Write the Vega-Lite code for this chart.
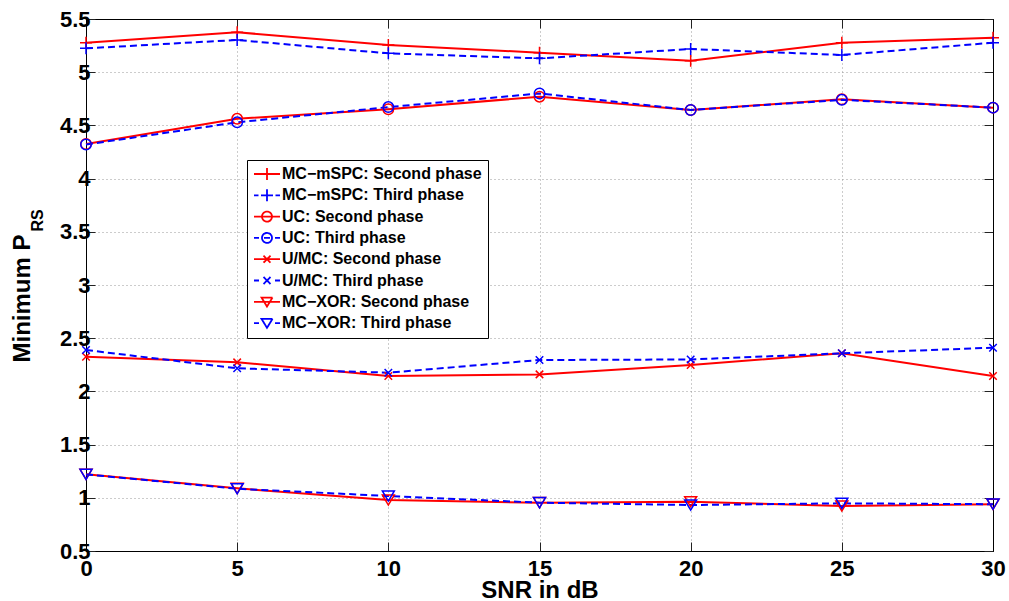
{
  "$schema": "https://vega.github.io/schema/vega-lite/v6.json",
  "width": 907,
  "height": 532,
  "autosize": {"type": "none"},
  "padding": {"left": 86, "top": 19, "right": 16, "bottom": 50},
  "config": {
    "font": "Liberation Sans",
    "view": {"stroke": "black", "strokeWidth": 1},
    "axis": {"labelFont": "Liberation Sans", "titleFont": "Liberation Sans", "labelColor": "black", "titleColor": "black", "domainColor": "black", "tickColor": "#222222"}
  },
  "data": {
    "values": [
      {"s": "MC−mSPC: Second phase", "x": 0, "y": 5.277},
      {"s": "MC−mSPC: Second phase", "x": 5, "y": 5.375},
      {"s": "MC−mSPC: Second phase", "x": 10, "y": 5.256},
      {"s": "MC−mSPC: Second phase", "x": 15, "y": 5.183},
      {"s": "MC−mSPC: Second phase", "x": 20, "y": 5.108},
      {"s": "MC−mSPC: Second phase", "x": 25, "y": 5.277},
      {"s": "MC−mSPC: Second phase", "x": 30, "y": 5.324},
      {"s": "MC−mSPC: Third phase", "x": 0, "y": 5.224},
      {"s": "MC−mSPC: Third phase", "x": 5, "y": 5.303},
      {"s": "MC−mSPC: Third phase", "x": 10, "y": 5.177},
      {"s": "MC−mSPC: Third phase", "x": 15, "y": 5.13},
      {"s": "MC−mSPC: Third phase", "x": 20, "y": 5.218},
      {"s": "MC−mSPC: Third phase", "x": 25, "y": 5.162},
      {"s": "MC−mSPC: Third phase", "x": 30, "y": 5.277},
      {"s": "UC: Second phase", "x": 0, "y": 4.325},
      {"s": "UC: Second phase", "x": 5, "y": 4.562},
      {"s": "UC: Second phase", "x": 10, "y": 4.652},
      {"s": "UC: Second phase", "x": 15, "y": 4.77},
      {"s": "UC: Second phase", "x": 20, "y": 4.645},
      {"s": "UC: Second phase", "x": 25, "y": 4.745},
      {"s": "UC: Second phase", "x": 30, "y": 4.667},
      {"s": "UC: Third phase", "x": 0, "y": 4.32},
      {"s": "UC: Third phase", "x": 5, "y": 4.529},
      {"s": "UC: Third phase", "x": 10, "y": 4.672},
      {"s": "UC: Third phase", "x": 15, "y": 4.8},
      {"s": "UC: Third phase", "x": 20, "y": 4.645},
      {"s": "UC: Third phase", "x": 25, "y": 4.74},
      {"s": "UC: Third phase", "x": 30, "y": 4.667},
      {"s": "U/MC: Second phase", "x": 0, "y": 2.326},
      {"s": "U/MC: Second phase", "x": 5, "y": 2.273},
      {"s": "U/MC: Second phase", "x": 10, "y": 2.145},
      {"s": "U/MC: Second phase", "x": 15, "y": 2.16},
      {"s": "U/MC: Second phase", "x": 20, "y": 2.248},
      {"s": "U/MC: Second phase", "x": 25, "y": 2.358},
      {"s": "U/MC: Second phase", "x": 30, "y": 2.145},
      {"s": "U/MC: Third phase", "x": 0, "y": 2.389},
      {"s": "U/MC: Third phase", "x": 5, "y": 2.217},
      {"s": "U/MC: Third phase", "x": 10, "y": 2.176},
      {"s": "U/MC: Third phase", "x": 15, "y": 2.295},
      {"s": "U/MC: Third phase", "x": 20, "y": 2.3},
      {"s": "U/MC: Third phase", "x": 25, "y": 2.358},
      {"s": "U/MC: Third phase", "x": 30, "y": 2.411},
      {"s": "MC−XOR: Second phase", "x": 0, "y": 1.221},
      {"s": "MC−XOR: Second phase", "x": 5, "y": 1.089},
      {"s": "MC−XOR: Second phase", "x": 10, "y": 0.979},
      {"s": "MC−XOR: Second phase", "x": 15, "y": 0.954},
      {"s": "MC−XOR: Second phase", "x": 20, "y": 0.963},
      {"s": "MC−XOR: Second phase", "x": 25, "y": 0.923},
      {"s": "MC−XOR: Second phase", "x": 30, "y": 0.939},
      {"s": "MC−XOR: Third phase", "x": 0, "y": 1.22},
      {"s": "MC−XOR: Third phase", "x": 5, "y": 1.085},
      {"s": "MC−XOR: Third phase", "x": 10, "y": 1.017},
      {"s": "MC−XOR: Third phase", "x": 15, "y": 0.954},
      {"s": "MC−XOR: Third phase", "x": 20, "y": 0.932},
      {"s": "MC−XOR: Third phase", "x": 25, "y": 0.948},
      {"s": "MC−XOR: Third phase", "x": 30, "y": 0.94}
    ]
  },
  "layer": [
    {
      "layer": [
        {
          "transform": [{"filter": {"field": "s", "oneOf": ["MC−mSPC: Second phase", "UC: Second phase", "U/MC: Second phase", "MC−XOR: Second phase"]}}],
          "mark": {"type": "line", "strokeWidth": 2},
          "encoding": {
            "x": {"field": "x", "type": "quantitative", "scale": {"domain": [0, 30], "nice": false},
              "axis": {"orient": "bottom", "values": [0, 5, 10, 15, 20, 25, 30], "tickSize": -9, "labelFontSize": 22, "labelFontWeight": "bold", "labelPadding": 16, "labelFlush": false, "labelOverlap": false, "grid": true, "gridDash": [1, 3], "gridColor": "#999999", "title": "SNR in dB", "titleFontSize": 24, "titleFontWeight": "bold", "titleY": 46, "titleBaseline": "alphabetic"}},
            "y": {"field": "y", "type": "quantitative", "scale": {"domain": [0.5, 5.5], "nice": false, "zero": false},
              "axis": {"orient": "left", "values": [0.5, 1, 1.5, 2, 2.5, 3, 3.5, 4, 4.5, 5, 5.5], "format": "~g", "tickSize": -9, "labelFontSize": 22, "labelFontWeight": "bold", "labelPadding": 5, "labelFlush": false, "labelOverlap": false, "grid": true, "gridDash": [1, 3], "gridColor": "#999999", "title": "Minimum P", "titleFontSize": 24, "titleFontWeight": "bold", "titleAngle": -90, "titleAlign": "center", "titleBaseline": "alphabetic", "titleX": -57, "titleY": 279}},
            "color": {"field": "s", "type": "nominal",
              "scale": {"domain": ["MC−mSPC: Second phase", "MC−mSPC: Third phase", "UC: Second phase", "UC: Third phase", "U/MC: Second phase", "U/MC: Third phase", "MC−XOR: Second phase", "MC−XOR: Third phase"],
                "range": ["#ff0000", "#0000ff", "#ff0000", "#0000ff", "#ff0000", "#0000ff", "#ff0000", "#0000ff"]}}
          }
        },
        {
          "transform": [{"filter": {"field": "s", "oneOf": ["MC−mSPC: Third phase", "UC: Third phase", "U/MC: Third phase", "MC−XOR: Third phase"]}}],
          "mark": {"type": "line", "strokeWidth": 2, "strokeDash": [7, 4]},
          "encoding": {
            "x": {"field": "x", "type": "quantitative"},
            "y": {"field": "y", "type": "quantitative"},
            "color": {"field": "s", "type": "nominal"}
          }
        },
        {
          "transform": [{"filter": {"field": "s", "oneOf": ["MC−mSPC: Second phase", "MC−mSPC: Third phase"]}}],
          "mark": {"type": "point", "filled": false, "strokeWidth": 1.5, "opacity": 1, "shape": "M-1,0L1,0M0,-1L0,1", "size": 144},
          "encoding": {
            "x": {"field": "x", "type": "quantitative"},
            "y": {"field": "y", "type": "quantitative"},
            "color": {"field": "s", "type": "nominal"}
          }
        },
        {
          "transform": [{"filter": {"field": "s", "oneOf": ["UC: Second phase", "UC: Third phase"]}}],
          "mark": {"type": "point", "filled": false, "strokeWidth": 1.5, "opacity": 1, "shape": "circle", "size": 110},
          "encoding": {
            "x": {"field": "x", "type": "quantitative"},
            "y": {"field": "y", "type": "quantitative"},
            "color": {"field": "s", "type": "nominal"}
          }
        },
        {
          "transform": [{"filter": {"field": "s", "oneOf": ["U/MC: Second phase", "U/MC: Third phase"]}}],
          "mark": {"type": "point", "filled": false, "strokeWidth": 1.5, "opacity": 1, "shape": "M-1,-1L1,1M-1,1L1,-1", "size": 56},
          "encoding": {
            "x": {"field": "x", "type": "quantitative"},
            "y": {"field": "y", "type": "quantitative"},
            "color": {"field": "s", "type": "nominal"}
          }
        },
        {
          "transform": [{"filter": {"field": "s", "oneOf": ["MC−XOR: Second phase", "MC−XOR: Third phase"]}}],
          "mark": {"type": "point", "filled": false, "strokeWidth": 1.5, "opacity": 1, "shape": "M-1,-0.85L1,-0.85L0,0.85Z", "size": 144},
          "encoding": {
            "x": {"field": "x", "type": "quantitative"},
            "y": {"field": "y", "type": "quantitative"},
            "color": {"field": "s", "type": "nominal"}
          }
        },
        {
          "mark": {"type": "point", "filled": false, "opacity": 0, "size": 100},
          "encoding": {
            "x": {"field": "x", "type": "quantitative"},
            "y": {"field": "y", "type": "quantitative"},
            "color": {"field": "s", "type": "nominal",
              "legend": {"orient": "none", "legendX": 161, "legendY": 141, "title": null, "fillColor": "white", "strokeColor": "black", "padding": 6, "labelFontSize": 16, "labelFont": "Liberation Sans", "labelFontWeight": "bold", "labelColor": "black", "labelLimit": 400, "symbolSize": 100, "symbolOffset": 6, "labelOffset": 7, "rowPadding": 1.3, "gridAlign": "all", "symbolStrokeWidth": 1.8, "symbolOpacity": 1, "symbolFillColor": "transparent", "symbolDash": [1, 0]}},
            "shape": {"field": "s", "type": "nominal",
              "scale": {"domain": ["MC−mSPC: Second phase", "MC−mSPC: Third phase", "UC: Second phase", "UC: Third phase", "U/MC: Second phase", "U/MC: Third phase", "MC−XOR: Second phase", "MC−XOR: Third phase"],
                "range": ["M-2.6,0L2.6,0M0,-1.2L0,1.2", "M-2.6,0L-1.7,0M-1.2,0L1.2,0M1.7,0L2.6,0M0,-1.2L0,1.2", "M-2.6,0L2.6,0M1,0A1,1,0,1,1,-1,0A1,1,0,1,1,1,0", "M-2.6,0L-1.6,0M-0.6,0L0.6,0M1.6,0L2.6,0M1,0A1,1,0,1,1,-1,0A1,1,0,1,1,1,0", "M-2.6,0L2.6,0M-0.7,-0.7L0.7,0.7M-0.7,0.7L0.7,-0.7", "M-2.6,0L-1.6,0M1.6,0L2.6,0M-0.7,-0.7L0.7,0.7M-0.7,0.7L0.7,-0.7", "M-2.6,0L2.6,0M-1.1,-0.85L1.1,-0.85L0,0.95Z", "M-2.6,0L-1.6,0M1.6,0L2.6,0M-1.1,-0.85L1.1,-0.85L0,0.95Z"]}}
          }
        }
      ]
    },
    {
      "mark": {"type": "point", "opacity": 0},
      "encoding": {
        "x": {"field": "x", "type": "quantitative", "axis": {"orient": "top", "values": [0, 5, 10, 15, 20, 25, 30], "tickSize": -9, "labels": false, "grid": false, "title": null}},
        "y": {"field": "y", "type": "quantitative", "axis": {"orient": "right", "values": [0.5, 1, 1.5, 2, 2.5, 3, 3.5, 4, 4.5, 5, 5.5], "tickSize": -9, "labels": false, "grid": false, "title": "RS", "titleFontSize": 16, "titleFontWeight": "bold", "titleAngle": -90, "titleAlign": "center", "titleBaseline": "alphabetic", "titleX": -951, "titleY": 201}}
      }
    }
  ],
  "resolve": {"axis": {"x": "independent", "y": "independent"}}
}
